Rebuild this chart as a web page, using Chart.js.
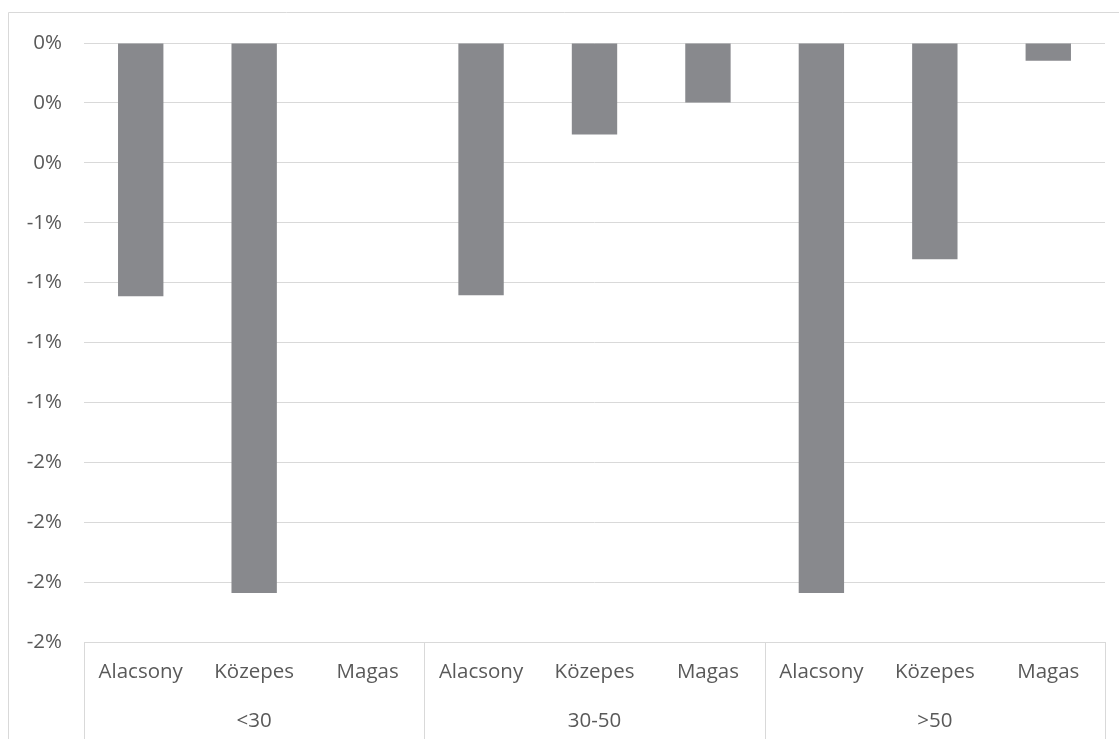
<!DOCTYPE html>
<html>
<head>
<meta charset="utf-8">
<script src="https://cdn.jsdelivr.net/npm/chart.js@4/dist/chart.umd.min.js"></script>
<style>
  html, body { margin: 0; padding: 0; background: #ffffff; }
  #wrap { width: 1119px; height: 739px; position: relative; }
</style>
</head>
<body>
<div id="wrap"><canvas id="c" width="1119" height="739"></canvas></div>
<script>
// Sub-categories (inner axis row) and their age groups (outer axis row)
const levels = ['Alacsony', 'Közepes', 'Magas', 'Alacsony', 'Közepes', 'Magas', 'Alacsony', 'Közepes', 'Magas'];
const groups = ['<30', '30-50', '>50'];
const groupSize = 3;

// Values as fractions (percent axis)
const values = [-0.01057, -0.02296, 0, -0.01053, -0.00382, -0.00248, -0.02296, -0.00903, -0.00074];

// Value axis: range, step and the labels printed from top to bottom
const yMax = 0;
const yMin = -0.025;
const yStep = 0.0025;
const yTickLabels = ['0%', '0%', '0%', '-1%', '-1%', '-1%', '-1%', '-2%', '-2%', '-2%', '-2%'];

const TEXT = '#595959';
const GRID = '#d9d9d9';
const BAR = '#88898d';
const FONT = '"Open Sans", "Noto Sans", sans-serif';
const FONT_SIZE = 20.5;

// Outer frame, group separators and the outer row of category labels
const groupAxis = {
  id: 'groupAxis',
  beforeDraw(chart) {
    const ctx = chart.ctx;
    ctx.save();
    ctx.strokeStyle = GRID;
    ctx.lineWidth = 1;
    ctx.beginPath();
    ctx.moveTo(8.5, chart.height + 2);
    ctx.lineTo(8.5, 12.5);
    ctx.lineTo(chart.width + 2, 12.5);
    ctx.stroke();
    ctx.restore();
  },
  afterDraw(chart) {
    const ctx = chart.ctx;
    const x = chart.scales.x;
    const area = chart.chartArea;
    const half = (x.getPixelForValue(1) - x.getPixelForValue(0)) / 2;
    ctx.save();
    ctx.strokeStyle = GRID;
    ctx.lineWidth = 1;
    for (let g = 0; g <= groups.length; g++) {
      const idx = g * groupSize;
      const px = idx < levels.length ? x.getPixelForValue(idx) - half : x.getPixelForValue(levels.length - 1) + half;
      const sx = Math.round(px) + 0.5;
      ctx.beginPath();
      ctx.moveTo(sx, area.bottom);
      ctx.lineTo(sx, chart.height + 2);
      ctx.stroke();
    }
    ctx.fillStyle = TEXT;
    ctx.font = FONT_SIZE + 'px ' + FONT;
    ctx.textAlign = 'center';
    ctx.textBaseline = 'middle';
    groups.forEach((label, g) => {
      const first = x.getPixelForValue(g * groupSize);
      const last = x.getPixelForValue(g * groupSize + groupSize - 1);
      ctx.fillText(label, (first + last) / 2, 721);
    });
    ctx.restore();
  }
};

new Chart(document.getElementById('c'), {
  type: 'bar',
  data: {
    labels: levels,
    datasets: [{
      data: values,
      backgroundColor: BAR,
      borderWidth: 0,
      categoryPercentage: 1,
      barPercentage: 0.4
    }]
  },
  options: {
    responsive: false,
    animation: false,
    layout: { padding: { left: 0, right: 14, top: 43, bottom: 0 } },
    plugins: {
      legend: { display: false },
      tooltip: { enabled: false },
      title: { display: false }
    },
    scales: {
      x: {
        grid: { display: false, drawTicks: false },
        border: { display: true, color: GRID, width: 1 },
        ticks: {
          color: TEXT,
          font: { size: FONT_SIZE, family: FONT },
          padding: 18,
          maxRotation: 0,
          autoSkip: false
        },
        afterFit(scale) { scale.height = 97; }
      },
      y: {
        min: yMin,
        max: yMax,
        grid: { color: GRID, drawTicks: false, lineWidth: 1 },
        border: { display: false },
        ticks: {
          stepSize: yStep,
          color: TEXT,
          font: { size: FONT_SIZE, family: FONT },
          padding: 22,
          callback(value, index, ticks) {
            return yTickLabels[ticks.length - 1 - index];
          }
        },
        afterFit(scale) { scale.width = 84; }
      }
    }
  },
  plugins: [groupAxis]
});
</script>
</body>
</html>
